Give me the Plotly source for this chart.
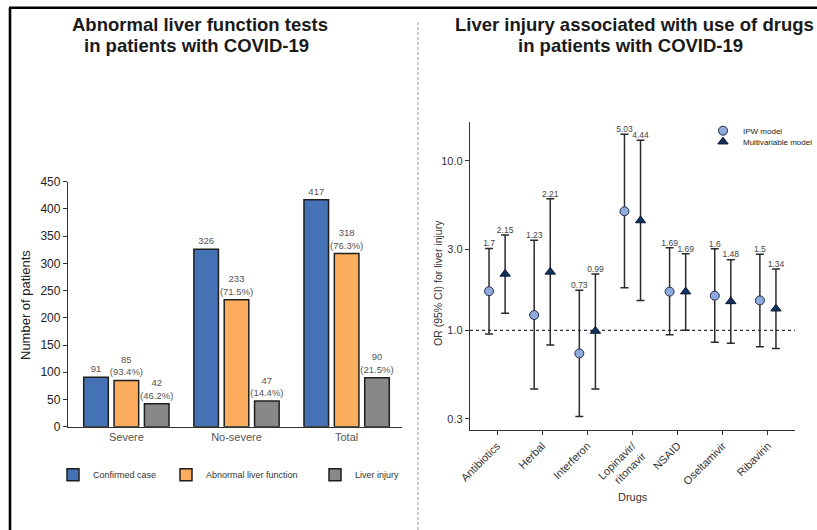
import plotly.graph_objects as go

# ---- Left panel: abnormal liver function tests ----
groups = ["Severe", "No-severe", "Total"]
confirmed = [91, 326, 417]
abnormal = [85, 233, 318]
abnormal_pct = ["93.4%", "71.5%", "76.3%"]
injury = [42, 47, 90]
injury_pct = ["46.2%", "14.4%", "21.5%"]

# ---- Right panel: odds ratios for liver injury by drug ----
drugs = ["Antibiotics", "Herbal", "Interferon", "Lopinavir/<br>ritonavir",
         "NSAID", "Oseltamivir", "Ribavirin"]
ipw_or = [1.70, 1.23, 0.73, 5.03, 1.69, 1.60, 1.50]
ipw_lo = [0.95, 0.45, 0.31, 1.78, 0.94, 0.85, 0.80]
ipw_hi = [3.04, 3.40, 1.72, 14.3, 3.07, 3.03, 2.81]
mv_or = [2.15, 2.21, 0.99, 4.44, 1.69, 1.48, 1.34]
mv_lo = [1.26, 0.82, 0.45, 1.50, 1.00, 0.84, 0.78]
mv_hi = [3.65, 5.97, 2.15, 13.2, 2.83, 2.61, 2.30]
or_ticks = [0.3, 1.0, 3.0, 10.0]

W, H = 817, 530
FONT = "Liberation Sans, Arial, Helvetica, sans-serif"


def px(x):
    return x / W


def py(y):
    return 1 - y / H


fig = go.Figure()

bar_line = dict(color="#1e1e1e", width=1.5)
bar_text = dict(size=9.5, color="#555555", family=FONT)

fig.add_trace(go.Bar(
    x=groups, y=confirmed, name="Confirmed case",
    marker=dict(color="#4472b4", line=bar_line),
    text=[str(v) for v in confirmed], textposition="outside",
    textfont=bar_text, constraintext="none", cliponaxis=False,
    legend="legend", xaxis="x", yaxis="y"))
fig.add_trace(go.Bar(
    x=groups, y=abnormal, name="Abnormal liver function",
    marker=dict(color="#fdad5e", line=bar_line),
    text=[f"{v}<br>({p})" for v, p in zip(abnormal, abnormal_pct)],
    textposition="outside", textfont=bar_text, constraintext="none",
    cliponaxis=False, legend="legend2", xaxis="x", yaxis="y"))
fig.add_trace(go.Bar(
    x=groups, y=injury, name="Liver injury",
    marker=dict(color="#888888", line=bar_line),
    text=[f"{v}<br>({p})" for v, p in zip(injury, injury_pct)],
    textposition="outside", textfont=bar_text, constraintext="none",
    cliponaxis=False, legend="legend3", xaxis="x", yaxis="y"))

# positions of the two estimates around each drug
shift = 0.178
x_ipw = [i - shift for i in range(len(drugs))]
x_mv = [i + shift for i in range(len(drugs))]

# reference line at OR = 1
fig.add_trace(go.Scatter(
    x=[-0.6, len(drugs) - 0.4], y=[1.0, 1.0], mode="lines",
    line=dict(color="#333333", width=1.2, dash="3px,3px"),
    showlegend=False, hoverinfo="skip", xaxis="x2", yaxis="y2"))

err_style = dict(type="data", symmetric=False, color="#2b2b2b",
                 thickness=1.5, width=4)

fig.add_trace(go.Scatter(
    x=x_ipw, y=ipw_or, mode="markers", name="IPW model",
    marker=dict(symbol="circle", size=9, color="#8faadc",
                line=dict(color="#1f2a44", width=1)),
    error_y=dict(array=[h - o for h, o in zip(ipw_hi, ipw_or)],
                 arrayminus=[o - l for o, l in zip(ipw_or, ipw_lo)],
                 **err_style),
    legend="legend4", xaxis="x2", yaxis="y2", cliponaxis=False))
fig.add_trace(go.Scatter(
    x=x_mv, y=mv_or, mode="markers", name="Multivariable model",
    marker=dict(symbol="triangle-up", size=9, color="#12315f",
                line=dict(color="#0b1a33", width=1)),
    error_y=dict(array=[h - o for h, o in zip(mv_hi, mv_or)],
                 arrayminus=[o - l for o, l in zip(mv_or, mv_lo)],
                 **err_style),
    legend="legend5", xaxis="x2", yaxis="y2", cliponaxis=False))

# estimate values printed above the upper whiskers
lab_font = dict(size=8.5, color="#444444", family=FONT)
fig.add_trace(go.Scatter(
    x=x_ipw, y=ipw_hi, mode="text", text=[f"{v:g}" for v in ipw_or],
    textposition="top center", textfont=lab_font, showlegend=False,
    hoverinfo="skip", xaxis="x2", yaxis="y2", cliponaxis=False))
fig.add_trace(go.Scatter(
    x=x_mv, y=mv_hi, mode="text", text=[f"{v:g}" for v in mv_or],
    textposition="top center", textfont=lab_font, showlegend=False,
    hoverinfo="skip", xaxis="x2", yaxis="y2", cliponaxis=False))

axis_line = dict(showline=True, linecolor="#333333", linewidth=1.3,
                 showgrid=False, zeroline=False, automargin=False)

fig.update_layout(
    width=W, height=H,
    margin=dict(l=0, r=0, t=0, b=0, pad=0, autoexpand=False),
    paper_bgcolor="white", plot_bgcolor="white",
    font=dict(family=FONT, color="#222222"),
    barmode="group", bargap=0.173, bargroupgap=0.19,
    xaxis=dict(domain=[px(68), px(401.7)], range=[-0.53, 2.5],
               ticks="", tickfont=dict(size=11, color="#555555"),
               anchor="y", **axis_line),
    yaxis=dict(domain=[py(426.7), py(181.7)], range=[0, 450],
               tickvals=list(range(0, 451, 50)), ticks="outside",
               ticklen=4, tickcolor="#333333",
               tickfont=dict(size=12, color="#222222"),
               anchor="x", **axis_line),
    xaxis2=dict(domain=[px(470), px(795)], range=[-0.6, len(drugs) - 0.4],
                tickvals=list(range(len(drugs))), ticktext=drugs,
                tickangle=-45, ticks="outside", ticklen=4,
                tickcolor="#333333", tickfont=dict(size=11, color="#333333"),
                anchor="y2", **axis_line),
    yaxis2=dict(domain=[py(430), py(121.7)], type="log",
                range=[-0.588, 1.230], tickvals=or_ticks,
                ticktext=[f"{v:.1f}" for v in or_ticks],
                ticks="outside", ticklen=4, tickcolor="#333333",
                tickfont=dict(size=11, color="#333333"),
                anchor="x2", **axis_line),
    showlegend=True,
)

leg_common = dict(bgcolor="rgba(0,0,0,0)", borderwidth=0,
                  font=dict(size=9, color="#333333", family=FONT),
                  xanchor="left", yanchor="middle")
leg_small = dict(bgcolor="rgba(0,0,0,0)", borderwidth=0,
                 font=dict(size=8, color="#222222", family=FONT),
                 xanchor="left", yanchor="middle")
fig.update_layout(
    legend=dict(x=px(53), y=py(474.7), **leg_common),
    legend2=dict(x=px(166), y=py(474.7), **leg_common),
    legend3=dict(x=px(315), y=py(474.7), **leg_common),
    legend4=dict(x=px(703), y=py(130.7), **leg_small),
    legend5=dict(x=px(703), y=py(141.7), **leg_small),
)

title_font = dict(size=18.5, color="#1a1a1a", family=FONT)
annotations = [
    dict(text="<b>Abnormal liver function tests</b>", x=px(200), y=py(25),
         font=title_font),
    dict(text="<b>in patients with COVID-19</b>", x=px(196), y=py(46),
         font=title_font),
    dict(text="<b>Liver injury associated with use of drugs</b>", x=px(634),
         y=py(25), font=title_font),
    dict(text="<b>in patients with COVID-19</b>", x=px(630), y=py(46),
         font=title_font),
    dict(text="Number of patients", x=px(25), y=py(305), textangle=-90,
         font=dict(size=13, color="#222222", family=FONT)),
    dict(text="OR (95% CI) for liver injury", x=px(438), y=py(283),
         textangle=-90, font=dict(size=10.5, color="#333333", family=FONT)),
    dict(text="Drugs", x=px(632.5), y=py(497),
         font=dict(size=11, color="#333333", family=FONT)),
]
for a in annotations:
    a.update(xref="paper", yref="paper", showarrow=False,
             xanchor="center", yanchor="middle")
fig.update_layout(annotations=annotations)

# frame lines and the panel divider
fig.update_layout(shapes=[
    dict(type="line", xref="paper", yref="paper", x0=px(9), x1=1.0,
         y0=py(7.7), y1=py(7.7), line=dict(color="black", width=2.6)),
    dict(type="line", xref="paper", yref="paper", x0=px(10), x1=px(10),
         y0=0, y1=py(7.7), line=dict(color="black", width=2.6)),
    dict(type="line", xref="paper", yref="paper", x0=px(418), x1=px(418),
         y0=0, y1=py(20), line=dict(color="#9a9a9a", width=1, dash="3px,2px")),
])

fig.write_html(
    "out.html",
    config={"displayModeBar": False},
    post_script="document.body.style.margin='0';"
                "document.body.style.overflow='hidden';",
)
